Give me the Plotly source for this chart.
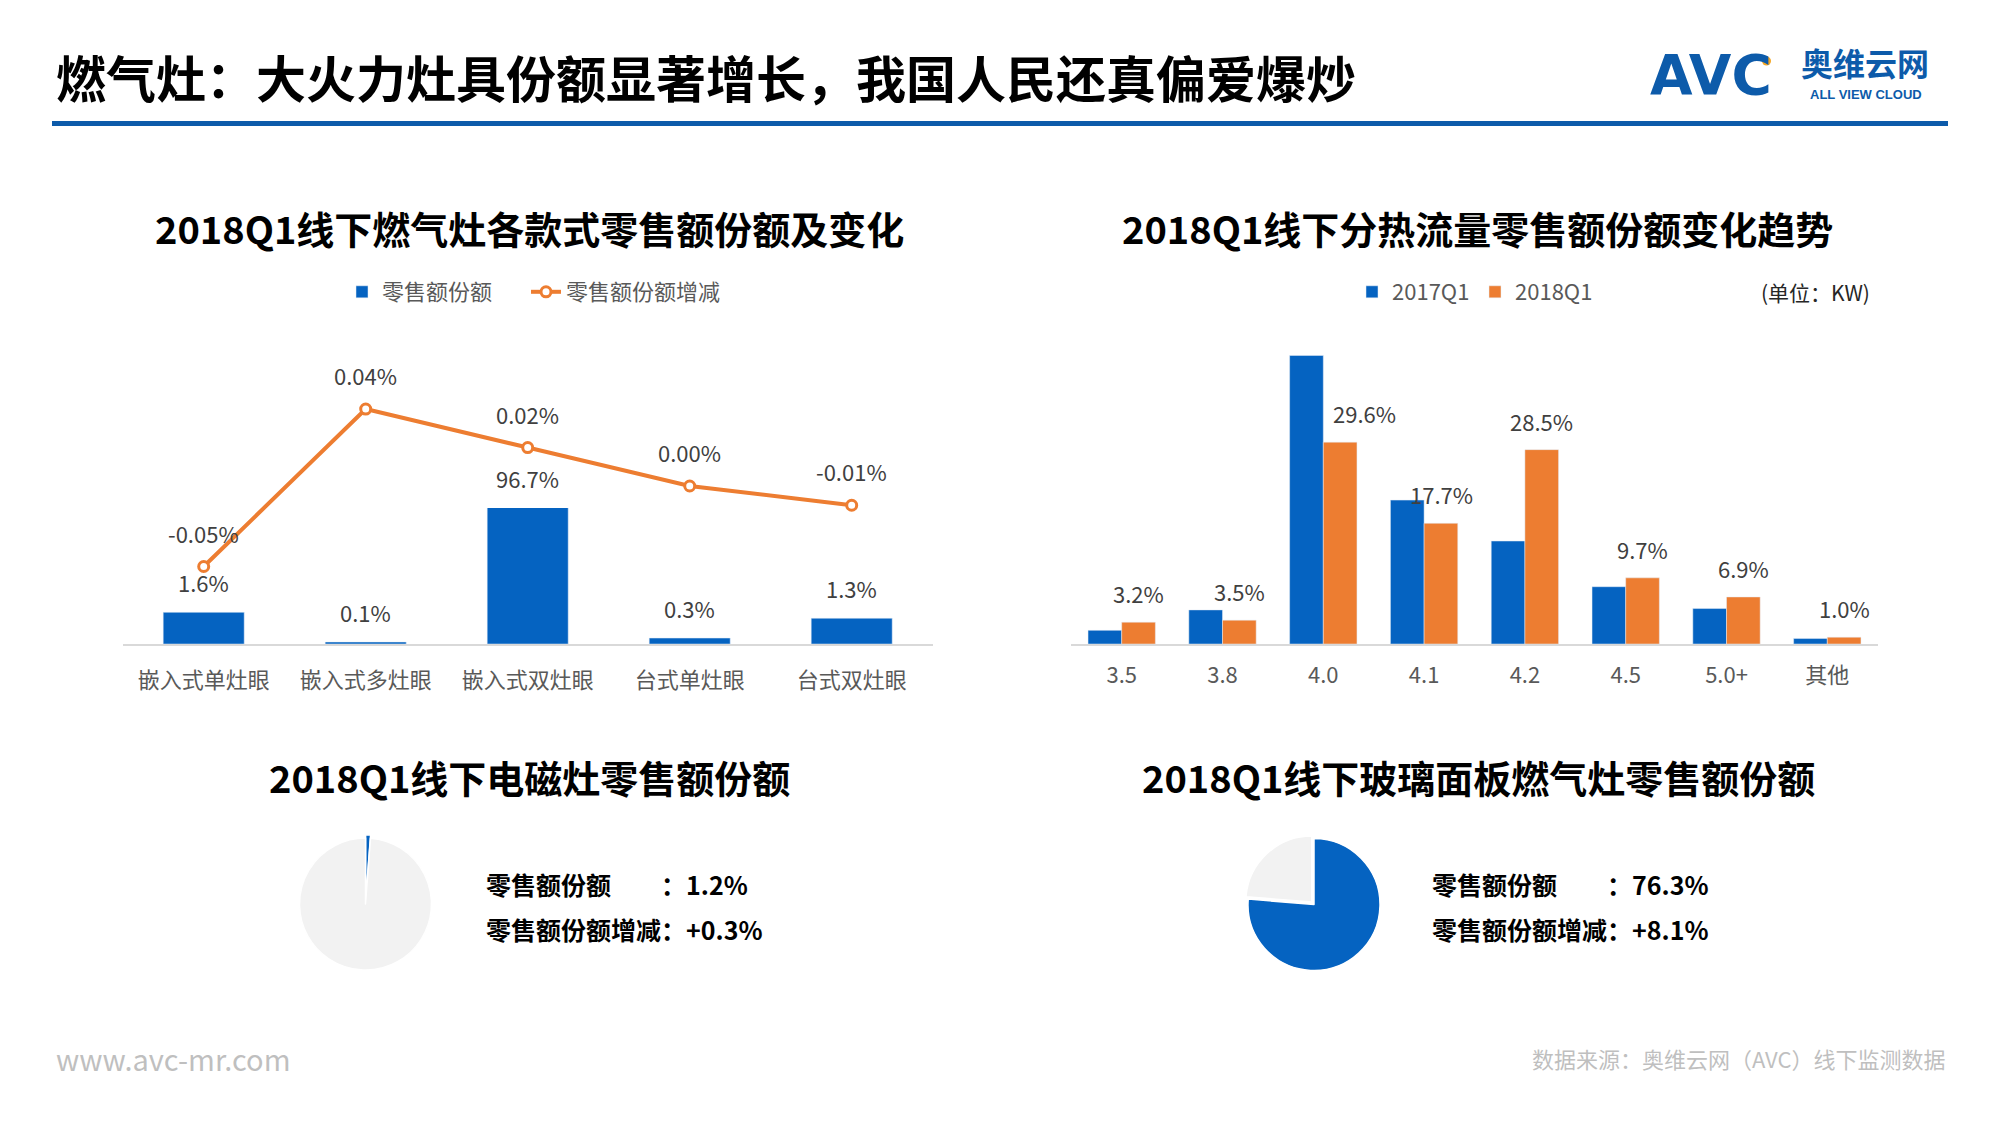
import plotly.graph_objects as go

# ---------------- data ----------------
gas_types = ["嵌入式单灶眼", "嵌入式多灶眼", "嵌入式双灶眼", "台式单灶眼", "台式双灶眼"]
gas_share = [1.6, 0.1, 96.7, 0.3, 1.3]               # 零售额份额 (%)
gas_share_chg = [-0.046, 0.044, 0.022, 0.000, -0.011]  # 零售额份额增减 (pct points)

heat_bins = ["3.5", "3.8", "4.0", "4.1", "4.2", "4.5", "5.0+", "其他"]
share_2017q1 = [2.0, 5.0, 42.3, 21.1, 15.1, 8.4, 5.2, 0.8]
share_2018q1 = [3.2, 3.5, 29.6, 17.7, 28.5, 9.7, 6.9, 1.0]

induction_share = 1.2
induction_chg = 0.3
glass_share = 76.3
glass_chg = 8.1

# ---------------- style ----------------
OFF = 8                      # page body margin
W, H = 2000 - 2 * OFF, 1125 - 2 * OFF
BLUE = "#0563C1"
ORANGE = "#ED7D31"
LIGHT = "#F2F2F2"
DARK_BLUE = "#0D5BAA"
FONT = "Noto Sans CJK SC"
TICK_C = "#595959"
LBL_C = "#404040"


def px(x):
    return (x - OFF) / W


def py(y):
    return 1 - (y - OFF) / H


BAR_CAP = 6.87          # left bar axis top (value units)
LINE_RANGE = [-0.0903, 0.0606]
RIGHT_MAX = 50.44
label_xshift_extra = {"4.0": 24}

fig = go.Figure()

# left: bars + line
fig.add_trace(go.Bar(
    x=gas_types, y=gas_share, name="零售额份额", marker_color=BLUE,
    xaxis="x", yaxis="y", legend="legend", hoverinfo="skip"))
fig.add_trace(go.Scatter(
    x=gas_types, y=gas_share_chg, name="零售额份额增减", mode="lines+markers",
    line=dict(color=ORANGE, width=4),
    marker=dict(size=10, color="white", line=dict(color=ORANGE, width=3)),
    xaxis="x", yaxis="y2", legend="legend3", hoverinfo="skip", cliponaxis=False))

# right: grouped bars
fig.add_trace(go.Bar(
    x=heat_bins, y=share_2017q1, name="2017Q1", marker_color=BLUE,
    xaxis="x3", yaxis="y3", legend="legend2", hoverinfo="skip",
    width=0.334, offset=-0.334))
fig.add_trace(go.Bar(
    x=heat_bins, y=share_2018q1, name="2018Q1", marker_color=ORANGE,
    xaxis="x3", yaxis="y3", legend="legend2", hoverinfo="skip",
    width=0.334, offset=0.0))


# pies
def pie_domain(cx, cy, r, pull):
    half = r * (1 + pull)
    return dict(x=[px(cx - half), px(cx + half)], y=[py(cy + half), py(cy - half)])


fig.add_trace(go.Pie(
    values=[induction_share, 100 - induction_share], sort=False,
    direction="clockwise", rotation=0, textinfo="none", hoverinfo="skip",
    marker=dict(colors=[BLUE, LIGHT], line=dict(color="white", width=1.5)),
    pull=[0.05, 0], showlegend=False, domain=pie_domain(365.5, 904, 66, 0.05)))
fig.add_trace(go.Pie(
    values=[glass_share, 100 - glass_share], sort=False,
    direction="clockwise", rotation=0, textinfo="none", hoverinfo="skip",
    marker=dict(colors=[BLUE, LIGHT], line=dict(color="white", width=1.5)),
    pull=[0, 0.05], showlegend=False, domain=pie_domain(1314, 904.5, 66, 0.05)))

ann = []


def text(x, y, s, size, color="#000000", bold=False, xanchor="center", family=FONT):
    ann.append(dict(x=px(x), y=py(y), xref="paper", yref="paper", text=s,
                    showarrow=False, xanchor=xanchor, yanchor="middle",
                    font=dict(family=family, size=size, color=color,
                              weight=700 if bold else 400)))


# headings
text(54, 76, "燃气灶：大火力灶具份额显著增长，我国人民还真偏爱爆炒", 50, bold=True, xanchor="left")
text(529, 228, "2018Q1线下燃气灶各款式零售额份额及变化", 38, bold=True)
text(1477, 228, "2018Q1线下分热流量零售额份额变化趋势", 38, bold=True)
text(529, 776, "2018Q1线下电磁灶零售额份额", 38, bold=True)
text(1478, 776, "2018Q1线下玻璃面板燃气灶零售额份额", 38, bold=True)
text(1872, 292, "(单位：KW)", 21, color="#262626", xanchor="right")

# logo
text(1711, 75, "AVC", 55, color=DARK_BLUE, bold=True, family="DejaVu Sans")
text(1865, 62, "奥维云网", 32, color=DARK_BLUE, bold=True)
text(1866, 94, "ALL VIEW CLOUD", 13, color=DARK_BLUE, bold=True, family="Liberation Sans")

# pie texts
text(484, 884, f"零售额份额\u3000\u3000：{induction_share}%", 25, bold=True, xanchor="left")
text(484, 929, f"零售额份额增减：+{induction_chg}%", 25, bold=True, xanchor="left")
text(1430, 884, f"零售额份额\u3000\u3000：{glass_share}%", 25, bold=True, xanchor="left")
text(1430, 929, f"零售额份额增减：+{glass_chg}%", 25, bold=True, xanchor="left")

# footer
text(54, 1058, "www.avc-mr.com", 29, color="#BFBFBF", xanchor="left")
text(1948, 1058, "数据来源：奥维云网（AVC）线下监测数据", 22, color="#BFBFBF", xanchor="right")

# data labels (category axes addressed by index)
for i, v in enumerate(gas_share):
    ann.append(dict(x=i, y=min(v, BAR_CAP), xref="x", yref="y", text=f"{v}%",
                    showarrow=False, yanchor="middle", yshift=30,
                    font=dict(family=FONT, size=22, color=LBL_C)))
for i, v in enumerate(gas_share_chg):
    ann.append(dict(x=i, y=v, xref="x", yref="y2", text=f"{v:.2f}%",
                    showarrow=False, yanchor="middle", yshift=34,
                    font=dict(family=FONT, size=22, color=LBL_C)))
for i, (c, v) in enumerate(zip(heat_bins, share_2018q1)):
    ann.append(dict(x=i, y=v, xref="x3", yref="y3", text=f"{v}%",
                    showarrow=False, yanchor="middle", yshift=29,
                    xshift=17 + label_xshift_extra.get(c, 0),
                    font=dict(family=FONT, size=22, color=LBL_C)))

shapes = [
    dict(type="line", xref="paper", yref="paper", x0=px(52), x1=px(1948),
         y0=py(123.5), y1=py(123.5), line=dict(color=DARK_BLUE, width=5)),
    dict(type="circle", xref="paper", yref="paper", x0=px(1762), x1=px(1771),
         y0=py(65.5), y1=py(56.5), fillcolor="#F5A623", line=dict(width=0)),
]

xaxis_common = dict(type="category", showline=True, linecolor="#D9D9D9", linewidth=1.5,
                    showgrid=False, zeroline=False, ticks="",
                    tickfont=dict(family=FONT, size=22, color=TICK_C), fixedrange=True)

legend_common = dict(orientation="h", xanchor="left", yanchor="middle", y=py(292),
                     font=dict(family=FONT, size=22, color=TICK_C),
                     bgcolor="rgba(0,0,0,0)")

fig.update_layout(
    width=W, height=H, margin=dict(l=0, r=0, t=0, b=0),
    paper_bgcolor="white", plot_bgcolor="rgba(0,0,0,0)",
    font=dict(family=FONT),
    barmode="group",
    xaxis=dict(domain=[px(122.7), px(932.7)], anchor="y", ticklabelstandoff=16, **xaxis_common),
    yaxis=dict(domain=[py(644), py(508)], range=[0, BAR_CAP], anchor="x", visible=False),
    yaxis2=dict(domain=[py(644), py(380)], range=LINE_RANGE, anchor="x", visible=False),
    xaxis3=dict(domain=[px(1071.3), px(1877.7)], anchor="y3", ticklabelstandoff=11, **xaxis_common),
    yaxis3=dict(domain=[py(644), py(300)], range=[0, RIGHT_MAX], anchor="x3", visible=False),
    bargap=0.5,
    legend=dict(x=px(342), **legend_common),
    legend3=dict(x=px(526), **legend_common),
    legend2=dict(x=px(1352), entrywidth=78, entrywidthmode="pixels", **legend_common),
    annotations=ann, shapes=shapes,
)

fig.write_html("out.html")
